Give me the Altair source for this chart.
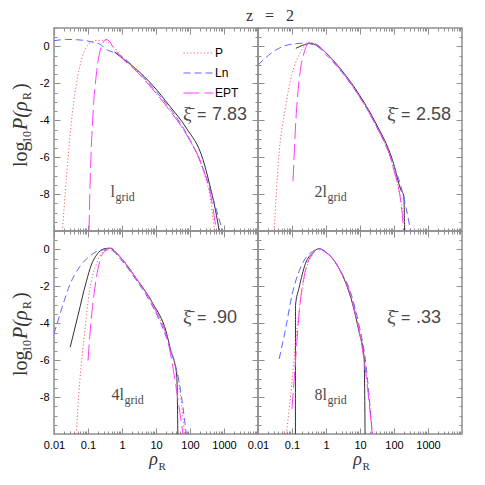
import altair as alt
import pandas as pd

# ---------------- values ----------------
# top-left panel (l_grid)
tl_P_rho = [0.0176, 0.023, 0.032, 0.045, 0.07, 0.1, 0.13, 0.2, 0.3, 0.42, 0.55, 0.85, 2.6, 8.1, 25, 78, 240, 380, 530]
tl_P_logp = [-10, -7.2, -4.2, -2.1, -0.5, 0.08, 0.24, 0.33, 0.33, 0.18, 0.02, -0.42, -1.29, -2.33, -3.47, -4.78, -6.69, -8.05, -10]
tl_Ln_rho = [0.01, 0.023, 0.05, 0.089, 0.15, 0.22, 0.38, 0.75, 2.6, 8.1, 25, 78, 240, 475, 900]
tl_Ln_logp = [0.31, 0.38, 0.36, 0.31, 0.22, 0.13, -0.2, -0.4, -1.24, -2.24, -3.33, -4.69, -6.6, -8.24, -10]
tl_EPT_rho = [0.107, 0.115, 0.125, 0.137, 0.15, 0.165, 0.19, 0.23, 0.28, 0.33, 0.42, 0.55, 0.85, 2.6, 8.1, 25, 78, 240, 400, 600]
tl_EPT_logp = [-10, -7.5, -5.5, -4.0, -2.8, -2.0, -1.0, -0.2, 0.22, 0.38, 0.3, -0.05, -0.5, -1.33, -2.33, -3.45, -4.75, -6.6, -8.0, -10]
tl_data_rho = [0.6, 0.85, 2.6, 8.1, 25, 78, 240, 380, 600, 720]
tl_data_logp = [-0.3, -0.52, -1.22, -2.12, -3.22, -4.42, -6.12, -7.5, -9.15, -10]

# top-right panel (2 l_grid)
tr_P_rho = [0.03, 0.04, 0.063, 0.1, 0.165, 0.25, 0.36, 0.61, 0.98, 3.0, 9.4, 29, 90, 176, 220]
tr_P_logp = [-10, -6.2, -3.4, -1.5, -0.42, 0.09, 0.22, 0.04, -0.33, -1.36, -2.6, -4.24, -6.42, -8.78, -10]
tr_Ln_rho = [0.01, 0.033, 0.1, 0.25, 0.61, 0.98, 3.0, 9.4, 29, 90, 176, 310]
tr_Ln_logp = [-1.0, -0.2, 0.13, 0.18, -0.05, -0.42, -1.42, -2.69, -4.24, -6.24, -7.87, -10]
tr_EPT_rho = [0.107, 0.13, 0.165, 0.23, 0.34, 0.5, 0.98, 3.0, 9.4, 29, 90, 176, 190]
tr_EPT_logp = [-7.3, -4.0, -1.7, -0.3, 0.23, 0.13, -0.33, -1.38, -2.69, -4.27, -6.42, -9.15, -10]
tr_data_rho = [0.13, 0.2, 0.35, 0.6, 0.98, 3.0, 9.4, 29, 90, 160, 195, 205]
tr_data_logp = [-0.1, 0.05, 0.16, 0.0, -0.33, -1.33, -2.6, -4.15, -6.15, -7.78, -8.1, -10]

# bottom-left panel (4 l_grid)
bl_P_rho = [0.045, 0.057, 0.08, 0.11, 0.18, 0.28, 0.43, 0.85, 2.6, 8.1, 25, 50, 69]
bl_P_logp = [-10, -7.2, -4.47, -2.29, -0.75, -0.11, 0.07, -0.35, -1.56, -2.98, -5.2, -7.56, -10]
bl_Ln_rho = [0.01, 0.0147, 0.029, 0.057, 0.11, 0.18, 0.28, 0.49, 0.85, 2.6, 8.1, 25, 50, 78]
bl_Ln_logp = [-4.56, -3.56, -1.93, -0.93, -0.38, -0.11, -0.02, -0.05, -0.47, -1.65, -3.11, -5.29, -7.38, -10]
bl_EPT_rho = [0.1, 0.125, 0.158, 0.22, 0.31, 0.49, 0.85, 2.6, 8.1, 25, 44, 62]
bl_EPT_logp = [-6.02, -3.75, -2.11, -0.65, -0.11, 0.07, -0.38, -1.56, -3.02, -5.38, -8.1, -10]
bl_data_rho = [0.03, 0.051, 0.089, 0.125, 0.18, 0.28, 0.43, 0.85, 2.6, 8.1, 20, 28, 35, 41, 44]
bl_data_logp = [-5.29, -3.56, -1.75, -0.84, -0.29, 0.02, 0.07, -0.38, -1.56, -2.93, -4.47, -5.56, -6.11, -6.93, -10]

# bottom-right panel (8 l_grid)
br_P_rho = [0.068, 0.1, 0.128, 0.16, 0.25, 0.4, 0.61, 0.98, 2.4, 6.0, 11.7, 18.4, 23]
br_P_logp = [-10, -7.2, -5.02, -3.38, -1.2, -0.29, 0.04, -0.15, -1.02, -2.84, -5.38, -8.1, -10]
br_Ln_rho = [0.042, 0.065, 0.1, 0.16, 0.25, 0.4, 0.61, 0.98, 2.4, 6.0, 9.4, 14.7, 23]
br_Ln_logp = [-5.93, -4.29, -2.47, -1.2, -0.47, -0.11, 0.04, -0.11, -1.02, -2.65, -4.11, -6.11, -10]
br_EPT_rho = [0.1, 0.128, 0.16, 0.25, 0.4, 0.61, 0.98, 2.4, 6.0, 14.7, 23]
br_EPT_logp = [-8.65, -5.93, -3.56, -1.11, -0.25, 0.04, -0.15, -1.02, -2.84, -6.65, -10]
br_data_rho = [0.126, 0.127, 0.16, 0.25, 0.4, 0.61, 0.98, 2.4, 6.0, 9.4, 13.2, 14.1]
br_data_logp = [-10, -3.02, -2.11, -0.75, -0.2, 0.04, -0.15, -1.02, -2.93, -4.47, -5.84, -10]

panel_keys = ["tl", "tr", "bl", "br"]
xi_values = ["7.83", "2.58", ".90", ".33"]
grid_prefix = ["l", "2l", "4l", "8l"]
model_names = ["P", "Ln", "EPT"]
x_major = [0.01, 0.1, 1, 10, 100, 1000]
x_minor = [m * 10.0 ** e for e in range(-2, 4) for m in range(2, 10)]
y_major = [0, -2, -4, -6, -8]
y_minor = [v / 2 for v in range(-19, 3) if v % 4 != 0]

series = [
    ("tl", "P", tl_P_rho, tl_P_logp), ("tl", "Ln", tl_Ln_rho, tl_Ln_logp),
    ("tl", "EPT", tl_EPT_rho, tl_EPT_logp), ("tl", "data", tl_data_rho, tl_data_logp),
    ("tr", "P", tr_P_rho, tr_P_logp), ("tr", "Ln", tr_Ln_rho, tr_Ln_logp),
    ("tr", "EPT", tr_EPT_rho, tr_EPT_logp), ("tr", "data", tr_data_rho, tr_data_logp),
    ("bl", "P", bl_P_rho, bl_P_logp), ("bl", "Ln", bl_Ln_rho, bl_Ln_logp),
    ("bl", "EPT", bl_EPT_rho, bl_EPT_logp), ("bl", "data", bl_data_rho, bl_data_logp),
    ("br", "P", br_P_rho, br_P_logp), ("br", "Ln", br_Ln_rho, br_Ln_logp),
    ("br", "EPT", br_EPT_rho, br_EPT_logp), ("br", "data", br_data_rho, br_data_logp),
]
rows = []
for p, m, xs_, ys_ in series:
    for xv, yv in zip(xs_, ys_):
        rows.append({"panel": p, "model": m, "rho": xv, "logp": yv})
df = pd.DataFrame(rows)

# ---------------- styling / layout ----------------
FRAME = "#8e8e8e"
TEXT_GREY = "#4a4a4a"
TITLE_GREY = "#333333"
COLORS = ["#ff5c5c", "#6464ff", "#ff3cff"]
DASHES = [[1.2, 2.2], [7, 4], [16, 5]]
DATA_COLOR = "#303030"
PW, PH = 204, 203
GRID_X = [61, 69, 70, 69]
YTITLE_START = [139, 139, 145, 145]
SERIF = "Liberation Serif"
SANS = "Liberation Sans"


def ax(orient, values, size, labels):
    return alt.Axis(orient=orient, values=values, tickSize=size, offset=-size,
                    labels=labels, ticks=True, domain=False, grid=False, title=None,
                    tickColor=FRAME, tickWidth=1, labelFont=SANS, labelFontSize=11,
                    labelColor="black", labelPadding=5, labelExpr="'' + datum.value",
                    labelFlush=False, labelOverlap=False)


def txt(text, x, y, font, size, align="left", baseline="alphabetic", angle=0,
        italic=False, color=TEXT_GREY):
    kw = dict(font=font, fontSize=size, align=align, baseline=baseline, color=color)
    if angle:
        kw["angle"] = angle
    if italic:
        kw["fontStyle"] = "italic"
    return alt.Chart(pd.DataFrame({"t": [text]})).mark_text(**kw).encode(
        text="t:N", x=alt.value(x), y=alt.value(y))


def make_panel(i):
    key = panel_keys[i]
    is_left = i % 2 == 0
    is_bottom = i >= 2
    d = df[df.panel == key]
    dm = d[d.model != "data"]
    dd = d[d.model == "data"]
    xs = alt.Scale(type="log", domain=[0.01, 10000], nice=False)
    ys = alt.Scale(domain=[-10, 1], nice=False, zero=False)
    if i == 0:
        leg = alt.Legend(title=None, orient="none", legendX=129, legendY=19,
                         symbolType="stroke", symbolSize=900, symbolStrokeWidth=1,
                         clipHeight=12, rowPadding=8, padding=0, labelOffset=1,
                         labelFont=SANS, labelFontSize=12, labelColor="black")
    else:
        leg = None
    data_layer = alt.Chart(dd).mark_line(color=DATA_COLOR, strokeWidth=1, clip=True,
                                         interpolate="monotone").encode(
        x=alt.X("rho:Q", scale=xs, axis=ax("bottom", x_minor, 3, False)),
        y=alt.Y("logp:Q", scale=ys, axis=ax("left", y_minor, 3, False)))
    model_layer = alt.Chart(dm).mark_line(strokeWidth=1, clip=True,
                                          interpolate="monotone").encode(
        x=alt.X("rho:Q", scale=xs, axis=ax("bottom", x_major, 6, is_bottom)),
        y=alt.Y("logp:Q", scale=ys, axis=ax("left", y_major, 6, is_left)),
        color=alt.Color("model:N", scale=alt.Scale(domain=model_names, range=COLORS), legend=leg),
        strokeDash=alt.StrokeDash("model:N", scale=alt.Scale(domain=model_names, range=DASHES), legend=leg))
    ghost_major = alt.Chart(dd).mark_line(opacity=0).encode(
        x=alt.X("rho:Q", scale=xs, axis=ax("top", x_major, 6, False)),
        y=alt.Y("logp:Q", scale=ys, axis=ax("right", y_major, 6, False)))
    ghost_minor = alt.Chart(dd).mark_line(opacity=0).encode(
        x=alt.X("rho:Q", scale=xs, axis=ax("top", x_minor, 3, False)),
        y=alt.Y("logp:Q", scale=ys, axis=ax("right", y_minor, 3, False)))

    layers = [data_layer, model_layer, ghost_major, ghost_minor]
    # xi-bar annotation
    layers.append(txt("\u03be\u0304", 129, 92, SERIF, 19))
    layers.append(txt("=", 143, 92, SANS, 16))
    layers.append(txt(xi_values[i], 158, 92, SANS, 18))
    # grid label
    layers.append(txt(grid_prefix[i], GRID_X[i], 169, SERIF, 16, align="right"))
    layers.append(txt("grid", GRID_X[i] + 0.5, 173, SERIF, 12))
    if i == 0:
        layers.append(txt("z\u00a0\u00a0\u00a0=\u00a0\u00a0\u00a02", 216, -12, SERIF, 16,
                          align="center", baseline="middle", color=TITLE_GREY))
    if is_left:
        s = YTITLE_START[i]
        bx = -27
        layers.append(txt("log", bx, s, SERIF, 20, angle=270, color=TITLE_GREY))
        layers.append(txt("10", bx + 4, s - 24, SERIF, 12, angle=270, color=TITLE_GREY))
        layers.append(txt("P(\u03c1", bx, s - 37, SERIF, 20, angle=270, italic=True, color=TITLE_GREY))
        layers.append(txt("R", bx + 4, s - 67, SERIF, 12, angle=270, color=TITLE_GREY))
        layers.append(txt(")", bx, s - 77, SERIF, 20, angle=270, color=TITLE_GREY))
    if is_bottom:
        layers.append(txt("\u03c1", 104, 234, SERIF, 18, align="right", italic=True, color=TITLE_GREY))
        layers.append(txt("R", 104.5, 239, SERIF, 11, color=TITLE_GREY))

    return alt.layer(*layers).resolve_axis(x="independent", y="independent").properties(
        width=PW, height=PH)


panels = [make_panel(i) for i in range(4)]
chart = alt.concat(*panels, columns=2, spacing=0, bounds="flush").resolve_legend(
    color="independent", strokeDash="independent").configure_view(
    stroke=FRAME, strokeWidth=1.5).properties(
    padding={"left": 2, "top": -1, "right": 5, "bottom": 5}, background="white")

chart.save("out.html", embed_options={"renderer": "svg", "actions": False})
